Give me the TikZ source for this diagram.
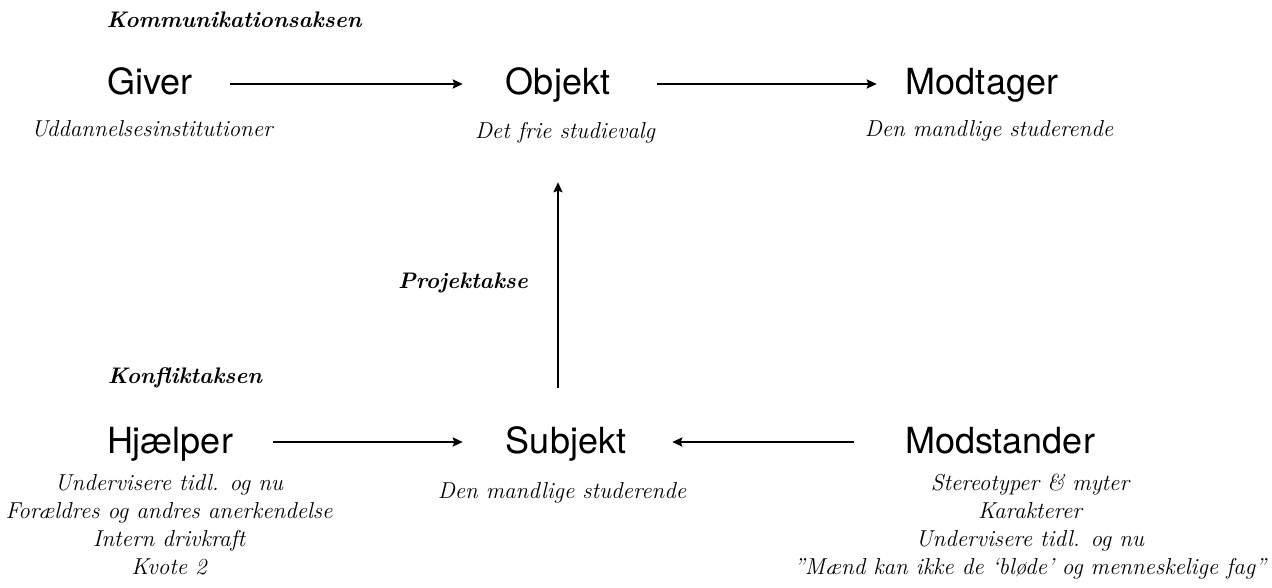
\documentclass[tikz,border=0pt]{standalone}
\usepackage{fontspec}
\newfontfamily\rolefont{TeX Gyre Heros}
\usetikzlibrary{arrows.meta}
\tikzset{
  role/.style={font=\rolefont\fontsize{36}{36}\selectfont, inner sep=0pt, text height=22pt, text depth=0pt, anchor=base},
  desc/.style={font=\itshape\fontsize{23}{28}\selectfont, inner sep=0pt, align=center, anchor=base},
  desclist/.style={desc, anchor=north},
  axis/.style={font=\bfseries\itshape\fontsize{22.5}{22.5}\selectfont, inner sep=0pt, anchor=base},
  arr/.style={line width=2.6pt, -{Stealth[length=10pt,width=9pt,inset=1.5pt]}}
}
\begin{document}
\begin{tikzpicture}[x=1pt,y=-1pt]
\useasboundingbox (0,0) rectangle (1272,588);

% axis titles
\node[axis] (kom) at (234,28) {Kommunikationsaksen};
\node[axis] (proj) at (463,288) {Projektakse};
\node[axis] (konf) at (185,383) {Konfliktaksen};

% actants
\node[role] (giver) at (150,95) {Giver};
\node[role] (objekt) at (558,95) {Objekt};
\node[role] (modtager) at (982,95) {Modtager};
\node[role] (hjaelper) at (170,453) {Hjælper};
\node[role] (subjekt) at (566,453) {Subjekt};
\node[role] (modstander) at (1000,453) {Modstander};

% descriptions
\node[desc] (dgiver) at (152,137) {Uddannelsesinstitutioner};
\node[desc] (dobjekt) at (565,139) {Det frie studievalg};
\node[desc] (dmodtager) at (989,137) {Den mandlige studerende};
\node[desclist] (dhjaelper) at (169,474) {Undervisere tidl. og nu\\Forældres og andres anerkendelse\\Intern drivkraft\\Kvote 2};
\node[desc] (dsubjekt) at (562,498) {Den mandlige studerende};
\node[desclist] (dmodstander) at (1030,474) {Stereotyper \& myter\\Karakterer\\Undervisere tidl. og nu\\"Mænd kan ikke de `bløde' og menneskelige fag"};

% communication axis
\draw[arr, shorten <=37pt, shorten >=43pt] (giver) -- (objekt);
\draw[arr, shorten <=47pt, shorten >=29pt] (objekt) -- (modtager);
% project axis
\draw[arr, shorten <=43pt, shorten >=87pt] (objekt |- subjekt.north) -- (objekt.south);
% conflict axis
\draw[arr, shorten <=40pt, shorten >=43pt] (hjaelper) -- (subjekt);
\draw[arr, shorten <=51pt, shorten >=46pt] (modstander) -- (subjekt);
\end{tikzpicture}
\end{document}
